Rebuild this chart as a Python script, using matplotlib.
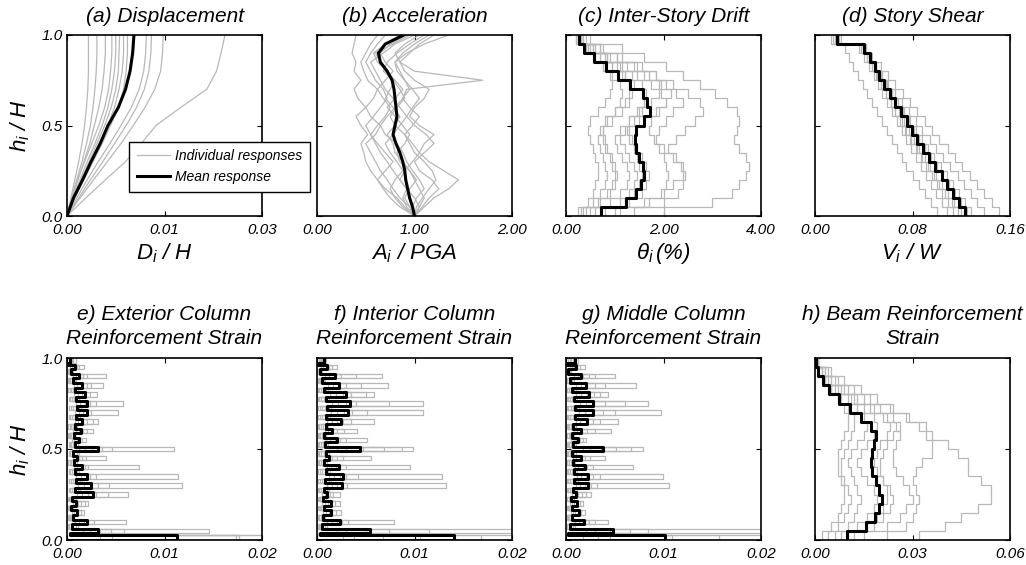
import numpy as np
import matplotlib
matplotlib.use("Agg")
import matplotlib.pyplot as plt
from matplotlib.ticker import FormatStrFormatter
from matplotlib.lines import Line2D

plt.rcParams.update({
    "font.family": "Liberation Sans",
    "font.style": "italic",
    "mathtext.fontset": "custom",
    "mathtext.rm": "Liberation Sans:italic",
    "mathtext.it": "Liberation Sans:italic",
    "mathtext.bf": "Liberation Sans:bold:italic",
    "mathtext.sf": "Liberation Sans:italic",
})

# ---------------------------------------------------------------- data
# (a) floor displacement D/H at h/H = 0, 0.1, ..., 1.0
disp_records = [
    [0, 0.0006, 0.0012, 0.0018, 0.0023, 0.0027, 0.0030, 0.0032, 0.0033, 0.0033, 0.0033],
    [0, 0.0007, 0.0015, 0.0023, 0.0030, 0.0036, 0.0040, 0.0043, 0.0045, 0.0046, 0.0046],
    [0, 0.0008, 0.0017, 0.0026, 0.0035, 0.0042, 0.0049, 0.0054, 0.0057, 0.0059, 0.0059],
    [0, 0.0007, 0.0016, 0.0027, 0.0038, 0.0049, 0.0058, 0.0064, 0.0067, 0.0069, 0.0069],
    [0, 0.0009, 0.0020, 0.0031, 0.0043, 0.0054, 0.0063, 0.0069, 0.0073, 0.0075, 0.0075],
    [0, 0.0010, 0.0022, 0.0034, 0.0046, 0.0058, 0.0068, 0.0075, 0.0079, 0.0080, 0.0081],
    [0, 0.0010, 0.0023, 0.0036, 0.0050, 0.0063, 0.0073, 0.0080, 0.0085, 0.0087, 0.0087],
    [0, 0.0012, 0.0026, 0.0040, 0.0054, 0.0067, 0.0079, 0.0087, 0.0091, 0.0093, 0.0093],
    [0, 0.0015, 0.0031, 0.0048, 0.0066, 0.0083, 0.0099, 0.0111, 0.0118, 0.0121, 0.0122],
    [0, 0.0018, 0.0036, 0.0055, 0.0073, 0.0091, 0.0107, 0.0119, 0.0126, 0.0129, 0.0130],
    [0, 0.0020, 0.0041, 0.0062, 0.0083, 0.0102, 0.0120, 0.0135, 0.0144, 0.0147, 0.0148],
    [0, 0.0029, 0.0059, 0.0090, 0.0114, 0.0137, 0.0175, 0.0215, 0.0230, 0.0237, 0.0243],
]
disp_mean = [0, 0.0010, 0.0024, 0.0037, 0.0051, 0.0063, 0.0079, 0.0090, 0.0097, 0.0101, 0.0103]

# (b) peak floor acceleration A/PGA at h/H = 0, 0.05, ..., 1.0
acc_records = [
    [1.00, 0.90, 0.82, 0.70, 0.62, 0.55, 0.50, 0.48, 0.45, 0.52, 0.45, 0.40, 0.50, 0.42, 0.38, 0.45, 0.38, 0.40, 0.36, 0.38, 0.40],
    [1.00, 0.95, 0.85, 0.78, 0.72, 0.65, 0.60, 0.55, 0.50, 0.60, 0.65, 0.55, 0.50, 0.58, 0.62, 0.52, 0.48, 0.45, 0.50, 0.55, 0.62],
    [1.00, 1.05, 1.10, 1.05, 1.00, 0.95, 0.88, 0.80, 0.78, 0.72, 0.80, 0.85, 0.78, 0.70, 0.75, 0.80, 0.72, 0.62, 0.58, 0.70, 0.85],
    [1.00, 1.10, 1.20, 1.35, 1.45, 1.30, 1.15, 1.05, 1.10, 1.20, 1.05, 0.95, 1.00, 1.10, 1.15, 1.00, 0.90, 0.85, 0.95, 1.05, 1.20],
    [1.00, 0.92, 0.88, 0.92, 0.85, 0.78, 0.72, 0.65, 0.60, 0.55, 0.62, 0.70, 0.75, 0.68, 0.62, 0.70, 0.78, 0.70, 0.65, 0.75, 0.92],
    [1.00, 1.02, 1.08, 1.15, 1.22, 1.18, 1.10, 1.00, 0.95, 0.90, 0.98, 1.05, 0.95, 0.88, 0.92, 1.70, 1.00, 0.85, 0.80, 0.90, 1.05],
    [1.00, 0.85, 0.75, 0.68, 0.62, 0.70, 0.78, 0.70, 0.62, 0.55, 0.50, 0.58, 0.65, 0.72, 0.68, 0.60, 0.55, 0.50, 0.55, 0.62, 0.70],
    [1.00, 1.08, 1.15, 1.25, 1.18, 1.05, 1.00, 1.10, 1.20, 1.12, 1.00, 0.92, 0.98, 1.05, 0.98, 0.90, 0.82, 0.80, 0.88, 1.00, 1.15],
    [1.00, 0.95, 0.90, 0.95, 1.02, 0.95, 0.85, 0.82, 0.90, 0.95, 0.88, 0.80, 0.72, 0.80, 0.88, 0.80, 0.70, 0.65, 0.60, 0.78, 0.95],
    [1.00, 0.88, 0.80, 0.75, 0.80, 0.88, 0.82, 0.75, 0.70, 0.78, 0.85, 0.92, 0.85, 0.78, 0.70, 0.65, 0.60, 0.55, 0.68, 0.80, 1.00],
    [1.00, 1.05, 1.00, 0.92, 0.85, 0.90, 0.98, 1.05, 0.98, 0.90, 0.80, 0.75, 0.82, 0.90, 0.85, 0.78, 0.68, 0.72, 0.82, 0.95, 1.10],
    [1.00, 0.98, 1.02, 1.10, 1.05, 0.98, 0.92, 0.88, 0.82, 0.70, 0.65, 0.72, 0.80, 0.88, 0.95, 0.90, 0.85, 0.80, 0.92, 1.10, 1.35],
]
acc_mean = [1.00, 0.98, 0.95, 0.93, 0.91, 0.90, 0.88, 0.85, 0.81, 0.78, 0.80,
            0.82, 0.81, 0.80, 0.79, 0.77, 0.72, 0.65, 0.63, 0.70, 0.89]

# (c) inter-story drift (%) for stories 1..20
drift_records = [
    [2.00, 3.00, 3.40, 3.55, 3.70, 3.75, 3.70, 3.55, 3.45, 3.50, 3.55, 3.50, 3.30, 3.05, 2.75, 2.40, 2.05, 1.60, 1.15, 0.50],
    [1.40, 2.00, 2.30, 2.40, 2.45, 2.35, 2.20, 2.10, 2.25, 2.45, 2.65, 2.80, 2.75, 2.50, 2.20, 1.85, 1.45, 1.05, 0.70, 0.35],
    [1.00, 1.60, 2.00, 2.20, 2.40, 2.40, 2.25, 2.00, 1.85, 1.90, 2.05, 2.20, 2.40, 2.25, 1.95, 1.60, 1.25, 0.90, 0.60, 0.30],
    [0.60, 1.10, 1.30, 1.40, 1.45, 1.40, 1.30, 1.20, 1.10, 1.20, 1.50, 1.85, 2.05, 1.95, 1.75, 1.45, 1.15, 0.85, 0.55, 0.30],
    [0.50, 0.90, 1.10, 1.25, 1.30, 1.25, 1.15, 1.05, 1.00, 1.10, 1.30, 1.50, 1.60, 1.55, 1.40, 1.20, 0.95, 0.70, 0.45, 0.25],
    [0.30, 0.55, 0.70, 0.80, 0.85, 0.80, 0.75, 0.70, 0.65, 0.75, 0.95, 1.15, 1.30, 1.35, 1.30, 1.15, 0.95, 0.70, 0.45, 0.25],
    [0.40, 0.70, 0.90, 1.00, 1.05, 1.00, 0.95, 0.85, 0.80, 0.75, 0.85, 1.00, 1.10, 1.15, 1.10, 0.95, 0.75, 0.55, 0.40, 0.20],
    [0.80, 1.30, 1.55, 1.65, 1.70, 1.65, 1.55, 1.45, 1.35, 1.30, 1.40, 1.55, 1.75, 1.90, 1.90, 1.70, 1.40, 1.05, 0.70, 0.35],
    [0.25, 0.45, 0.55, 0.60, 0.65, 0.65, 0.60, 0.55, 0.50, 0.45, 0.50, 0.65, 0.80, 0.90, 0.95, 0.90, 0.75, 0.60, 0.40, 0.20],
    [0.70, 1.20, 1.40, 1.50, 1.55, 1.50, 1.45, 1.40, 1.30, 1.25, 1.30, 1.45, 1.60, 1.65, 1.55, 1.35, 1.10, 0.85, 0.55, 0.30],
    [0.35, 0.65, 0.85, 0.95, 1.00, 0.95, 0.90, 0.80, 0.75, 0.70, 0.80, 1.00, 1.20, 1.30, 1.30, 1.20, 1.05, 0.80, 0.50, 0.25],
    [1.10, 1.70, 1.95, 2.05, 2.10, 2.05, 2.00, 1.90, 1.80, 1.70, 1.75, 1.90, 2.05, 2.15, 2.05, 1.85, 1.55, 1.15, 0.75, 0.40],
]
drift_mean = [0.72, 1.23, 1.43, 1.53, 1.60, 1.57, 1.50, 1.43, 1.41, 1.43, 1.60,
              1.72, 1.67, 1.57, 1.31, 1.06, 0.82, 0.58, 0.37, 0.27]

# (d) story shear V/W for stories 1..20
shear_records = [
    [0.151, 0.145, 0.139, 0.133, 0.127, 0.121, 0.115, 0.109, 0.102, 0.096, 0.090, 0.084, 0.078, 0.072, 0.066, 0.060, 0.054, 0.047, 0.040, 0.021],
    [0.139, 0.133, 0.128, 0.122, 0.117, 0.111, 0.105, 0.099, 0.094, 0.088, 0.083, 0.077, 0.071, 0.066, 0.060, 0.055, 0.050, 0.045, 0.039, 0.019],
    [0.128, 0.123, 0.118, 0.113, 0.108, 0.103, 0.098, 0.093, 0.088, 0.083, 0.078, 0.073, 0.068, 0.063, 0.058, 0.054, 0.050, 0.046, 0.041, 0.018],
    [0.125, 0.120, 0.115, 0.110, 0.105, 0.100, 0.095, 0.090, 0.085, 0.080, 0.075, 0.071, 0.066, 0.062, 0.058, 0.053, 0.049, 0.044, 0.038, 0.016],
    [0.122, 0.118, 0.113, 0.108, 0.104, 0.099, 0.094, 0.090, 0.085, 0.081, 0.077, 0.072, 0.068, 0.063, 0.059, 0.055, 0.050, 0.046, 0.042, 0.020],
    [0.120, 0.114, 0.109, 0.104, 0.099, 0.094, 0.090, 0.085, 0.081, 0.077, 0.073, 0.069, 0.065, 0.061, 0.057, 0.053, 0.049, 0.045, 0.040, 0.017],
    [0.117, 0.112, 0.107, 0.102, 0.098, 0.093, 0.088, 0.084, 0.079, 0.075, 0.071, 0.066, 0.062, 0.058, 0.054, 0.050, 0.047, 0.043, 0.039, 0.015],
    [0.113, 0.109, 0.104, 0.100, 0.096, 0.091, 0.087, 0.083, 0.078, 0.074, 0.070, 0.066, 0.062, 0.058, 0.054, 0.051, 0.047, 0.043, 0.039, 0.019],
    [0.108, 0.104, 0.099, 0.095, 0.091, 0.087, 0.083, 0.079, 0.075, 0.071, 0.067, 0.063, 0.059, 0.055, 0.052, 0.048, 0.044, 0.040, 0.036, 0.016],
    [0.100, 0.095, 0.090, 0.085, 0.080, 0.075, 0.071, 0.067, 0.063, 0.059, 0.055, 0.051, 0.047, 0.043, 0.039, 0.035, 0.031, 0.028, 0.025, 0.013],
]
shear_mean = [0.1228, 0.1180, 0.1134, 0.1085, 0.1039, 0.0984, 0.0938, 0.0889, 0.0841, 0.0795,
              0.0754, 0.0705, 0.0659, 0.0613, 0.0569, 0.0529, 0.0491, 0.0450, 0.0401, 0.0179]

# (e)-(g) column reinforcement strain: peak value at each floor level (21)
# and the smaller value reached between floor levels (20)
ext_records = [
    [0.0250, 0.0146, 0.0061, 0.0017, 0.0022, 0.0063, 0.0118, 0.0114, 0.0074, 0.0040, 0.0110, 0.0019, 0.0027, 0.0032, 0.0052, 0.0057, 0.0031, 0.0037, 0.0040, 0.0017, 0.0009],
    [0.0230, 0.0058, 0.0028, 0.0014, 0.0018, 0.0042, 0.0043, 0.0030, 0.0022, 0.0019, 0.0046, 0.0015, 0.0020, 0.0027, 0.0025, 0.0030, 0.0024, 0.0025, 0.0020, 0.0012, 0.0006],
    [0.0176, 0.0045, 0.0022, 0.0011, 0.0014, 0.0030, 0.0032, 0.0024, 0.0018, 0.0015, 0.0036, 0.0012, 0.0016, 0.0021, 0.0020, 0.0024, 0.0019, 0.0020, 0.0016, 0.0010, 0.0005],
    [0.0173, 0.0034, 0.0017, 0.0009, 0.0011, 0.0022, 0.0025, 0.0019, 0.0014, 0.0012, 0.0026, 0.0010, 0.0012, 0.0016, 0.0016, 0.0018, 0.0015, 0.0015, 0.0012, 0.0008, 0.0004],
    [0.0046, 0.0024, 0.0012, 0.0007, 0.0008, 0.0015, 0.0017, 0.0014, 0.0010, 0.0009, 0.0018, 0.0007, 0.0009, 0.0011, 0.0012, 0.0013, 0.0011, 0.0010, 0.0009, 0.0005, 0.0003],
    [0.0034, 0.0016, 0.0008, 0.0005, 0.0006, 0.0010, 0.0011, 0.0009, 0.0007, 0.0006, 0.0012, 0.0005, 0.0006, 0.0008, 0.0008, 0.0009, 0.0007, 0.0007, 0.0006, 0.0003, 0.0002],
]
ext_records_low = [
    [0.0012, 0.0009, 0.0005, 0.0004, 0.0007, 0.0011, 0.0013, 0.0010, 0.0008, 0.0010, 0.0009, 0.0006, 0.0008, 0.0011, 0.0012, 0.0010, 0.0009, 0.0008, 0.0005, 0.0002],
    [0.0008, 0.0006, 0.0004, 0.0003, 0.0005, 0.0008, 0.0009, 0.0007, 0.0006, 0.0007, 0.0006, 0.0004, 0.0006, 0.0008, 0.0009, 0.0007, 0.0006, 0.0005, 0.0003, 0.0001],
    [0.0005, 0.0004, 0.0003, 0.0002, 0.0003, 0.0005, 0.0006, 0.0005, 0.0004, 0.0005, 0.0004, 0.0003, 0.0004, 0.0005, 0.0006, 0.0005, 0.0004, 0.0003, 0.0002, 0.0001],
    [0.0003, 0.0002, 0.0002, 0.0001, 0.0002, 0.0003, 0.0004, 0.0003, 0.0003, 0.0003, 0.0003, 0.0002, 0.0003, 0.0003, 0.0004, 0.0003, 0.0003, 0.0002, 0.0001, 0.0001],
    [0.0015, 0.0011, 0.0007, 0.0006, 0.0009, 0.0013, 0.0015, 0.0012, 0.0010, 0.0012, 0.0011, 0.0008, 0.0010, 0.0013, 0.0014, 0.0012, 0.0011, 0.0009, 0.0006, 0.0003],
    [0.0002, 0.0001, 0.0001, 0.0001, 0.0001, 0.0002, 0.0002, 0.0002, 0.0001, 0.0002, 0.0002, 0.0001, 0.0001, 0.0002, 0.0002, 0.0002, 0.0001, 0.0001, 0.0001, 0.0000],
]
ext_mean = [0.0113, 0.0032, 0.0020, 0.0010, 0.0009, 0.0027, 0.0025, 0.0021, 0.0015, 0.0010, 0.0032,
            0.0012, 0.0014, 0.0015, 0.0020, 0.0020, 0.0018, 0.0015, 0.0012, 0.0008, 0.0003]
ext_mean_low = [0.0003, 0.0005, 0.0006, 0.0004, 0.0005, 0.0008, 0.0009, 0.0008, 0.0007, 0.0006,
                0.0008, 0.0007, 0.0008, 0.0009, 0.0010, 0.0009, 0.0008, 0.0006, 0.0004, 0.0001]

int_records = [
    [0.0260, 0.0230, 0.0079, 0.0025, 0.0024, 0.0024, 0.0132, 0.0128, 0.0095, 0.0055, 0.0098, 0.0051, 0.0041, 0.0058, 0.0109, 0.0109, 0.0058, 0.0073, 0.0067, 0.0021, 0.0009],
    [0.0168, 0.0115, 0.0032, 0.0019, 0.0018, 0.0016, 0.0031, 0.0042, 0.0030, 0.0027, 0.0087, 0.0030, 0.0028, 0.0035, 0.0051, 0.0074, 0.0050, 0.0045, 0.0040, 0.0015, 0.0006],
    [0.0106, 0.0074, 0.0026, 0.0015, 0.0014, 0.0013, 0.0025, 0.0030, 0.0024, 0.0020, 0.0069, 0.0024, 0.0020, 0.0027, 0.0036, 0.0040, 0.0035, 0.0030, 0.0025, 0.0012, 0.0005],
    [0.0068, 0.0050, 0.0020, 0.0012, 0.0011, 0.0010, 0.0020, 0.0024, 0.0019, 0.0015, 0.0047, 0.0018, 0.0015, 0.0020, 0.0028, 0.0030, 0.0027, 0.0022, 0.0018, 0.0009, 0.0004],
    [0.0038, 0.0030, 0.0015, 0.0009, 0.0008, 0.0008, 0.0015, 0.0017, 0.0014, 0.0011, 0.0030, 0.0013, 0.0011, 0.0015, 0.0020, 0.0022, 0.0019, 0.0016, 0.0012, 0.0006, 0.0003],
    [0.0027, 0.0020, 0.0010, 0.0006, 0.0005, 0.0005, 0.0010, 0.0012, 0.0010, 0.0008, 0.0020, 0.0009, 0.0008, 0.0010, 0.0014, 0.0015, 0.0013, 0.0011, 0.0008, 0.0004, 0.0002],
]
int_records_low = [
    [0.0010, 0.0008, 0.0006, 0.0006, 0.0007, 0.0010, 0.0012, 0.0011, 0.0008, 0.0010, 0.0009, 0.0007, 0.0009, 0.0011, 0.0012, 0.0010, 0.0009, 0.0007, 0.0004, 0.0002],
    [0.0007, 0.0005, 0.0004, 0.0004, 0.0005, 0.0007, 0.0008, 0.0008, 0.0006, 0.0007, 0.0006, 0.0005, 0.0006, 0.0008, 0.0008, 0.0007, 0.0006, 0.0005, 0.0003, 0.0001],
    [0.0004, 0.0003, 0.0002, 0.0003, 0.0003, 0.0004, 0.0005, 0.0005, 0.0004, 0.0004, 0.0004, 0.0003, 0.0004, 0.0005, 0.0005, 0.0004, 0.0004, 0.0003, 0.0002, 0.0001],
    [0.0013, 0.0010, 0.0008, 0.0008, 0.0009, 0.0012, 0.0014, 0.0013, 0.0010, 0.0012, 0.0011, 0.0009, 0.0011, 0.0013, 0.0014, 0.0012, 0.0011, 0.0008, 0.0005, 0.0002],
    [0.0002, 0.0002, 0.0001, 0.0002, 0.0002, 0.0002, 0.0003, 0.0003, 0.0002, 0.0002, 0.0002, 0.0002, 0.0002, 0.0003, 0.0003, 0.0002, 0.0002, 0.0002, 0.0001, 0.0001],
    [0.0001, 0.0001, 0.0001, 0.0001, 0.0001, 0.0001, 0.0001, 0.0001, 0.0001, 0.0001, 0.0001, 0.0001, 0.0001, 0.0001, 0.0001, 0.0001, 0.0001, 0.0001, 0.0000, 0.0000],
]
int_mean = [0.0140, 0.0054, 0.0024, 0.0014, 0.0014, 0.0010, 0.0026, 0.0027, 0.0023, 0.0012, 0.0044,
            0.0021, 0.0015, 0.0025, 0.0032, 0.0034, 0.0030, 0.0023, 0.0018, 0.0010, 0.0007]
int_mean_low = [0.0003, 0.0005, 0.0006, 0.0007, 0.0006, 0.0007, 0.0008, 0.0009, 0.0007, 0.0009,
                0.0008, 0.0007, 0.0009, 0.0009, 0.0010, 0.0009, 0.0007, 0.0005, 0.0003, 0.0001]

mid_records = [
    [0.0250, 0.0210, 0.0043, 0.0019, 0.0017, 0.0026, 0.0106, 0.0099, 0.0069, 0.0040, 0.0079, 0.0021, 0.0046, 0.0053, 0.0097, 0.0084, 0.0043, 0.0072, 0.0050, 0.0019, 0.0012],
    [0.0157, 0.0084, 0.0030, 0.0015, 0.0014, 0.0020, 0.0032, 0.0035, 0.0028, 0.0025, 0.0067, 0.0017, 0.0030, 0.0035, 0.0050, 0.0060, 0.0035, 0.0040, 0.0030, 0.0014, 0.0009],
    [0.0109, 0.0066, 0.0024, 0.0012, 0.0011, 0.0016, 0.0026, 0.0028, 0.0022, 0.0019, 0.0051, 0.0014, 0.0022, 0.0028, 0.0038, 0.0040, 0.0029, 0.0030, 0.0024, 0.0011, 0.0007],
    [0.0045, 0.0045, 0.0018, 0.0009, 0.0008, 0.0012, 0.0019, 0.0021, 0.0017, 0.0014, 0.0036, 0.0010, 0.0016, 0.0020, 0.0027, 0.0029, 0.0022, 0.0021, 0.0017, 0.0008, 0.0005],
    [0.0033, 0.0030, 0.0013, 0.0007, 0.0006, 0.0009, 0.0014, 0.0015, 0.0012, 0.0010, 0.0025, 0.0008, 0.0011, 0.0014, 0.0019, 0.0020, 0.0015, 0.0015, 0.0012, 0.0006, 0.0004],
    [0.0017, 0.0020, 0.0009, 0.0005, 0.0004, 0.0006, 0.0010, 0.0011, 0.0009, 0.0007, 0.0017, 0.0005, 0.0008, 0.0010, 0.0013, 0.0014, 0.0010, 0.0010, 0.0008, 0.0004, 0.0002],
]
mid_records_low = [
    [0.0009, 0.0007, 0.0005, 0.0005, 0.0006, 0.0009, 0.0010, 0.0009, 0.0007, 0.0008, 0.0008, 0.0006, 0.0008, 0.0010, 0.0011, 0.0009, 0.0008, 0.0006, 0.0004, 0.0002],
    [0.0006, 0.0005, 0.0003, 0.0003, 0.0004, 0.0006, 0.0007, 0.0006, 0.0005, 0.0006, 0.0005, 0.0004, 0.0005, 0.0007, 0.0007, 0.0006, 0.0005, 0.0004, 0.0002, 0.0001],
    [0.0012, 0.0009, 0.0007, 0.0007, 0.0008, 0.0011, 0.0012, 0.0011, 0.0009, 0.0010, 0.0010, 0.0008, 0.0010, 0.0012, 0.0013, 0.0011, 0.0010, 0.0008, 0.0005, 0.0002],
    [0.0004, 0.0003, 0.0002, 0.0002, 0.0003, 0.0004, 0.0004, 0.0004, 0.0003, 0.0004, 0.0003, 0.0003, 0.0003, 0.0004, 0.0005, 0.0004, 0.0003, 0.0003, 0.0002, 0.0001],
    [0.0002, 0.0001, 0.0001, 0.0001, 0.0001, 0.0002, 0.0002, 0.0002, 0.0001, 0.0002, 0.0002, 0.0001, 0.0002, 0.0002, 0.0002, 0.0002, 0.0001, 0.0001, 0.0001, 0.0000],
    [0.0001, 0.0001, 0.0000, 0.0000, 0.0001, 0.0001, 0.0001, 0.0001, 0.0001, 0.0001, 0.0001, 0.0000, 0.0001, 0.0001, 0.0001, 0.0001, 0.0001, 0.0000, 0.0000, 0.0000],
]
mid_mean = [0.0102, 0.0048, 0.0018, 0.0013, 0.0011, 0.0010, 0.0023, 0.0023, 0.0019, 0.0015, 0.0038,
            0.0012, 0.0015, 0.0022, 0.0028, 0.0028, 0.0024, 0.0020, 0.0015, 0.0010, 0.0009]
mid_mean_low = [0.0002, 0.0004, 0.0006, 0.0006, 0.0005, 0.0007, 0.0008, 0.0008, 0.0007, 0.0006,
                0.0007, 0.0006, 0.0007, 0.0009, 0.0009, 0.0008, 0.0006, 0.0004, 0.0002, 0.0001]

# (h) beam reinforcement strain for stories 1..20
beam_records = [
    [0.032, 0.040, 0.045, 0.050, 0.054, 0.054, 0.051, 0.047, 0.047, 0.044, 0.041, 0.036, 0.034, 0.029, 0.024, 0.019, 0.014, 0.009, 0.005, 0.001],
    [0.022, 0.028, 0.030, 0.031, 0.032, 0.031, 0.030, 0.031, 0.033, 0.036, 0.036, 0.034, 0.032, 0.028, 0.023, 0.017, 0.012, 0.007, 0.004, 0.001],
    [0.015, 0.022, 0.026, 0.028, 0.030, 0.029, 0.027, 0.025, 0.024, 0.024, 0.025, 0.026, 0.025, 0.022, 0.018, 0.013, 0.009, 0.005, 0.003, 0.001],
    [0.012, 0.018, 0.021, 0.023, 0.024, 0.023, 0.021, 0.019, 0.018, 0.019, 0.020, 0.022, 0.023, 0.021, 0.017, 0.012, 0.008, 0.005, 0.002, 0.001],
    [0.008, 0.013, 0.016, 0.018, 0.019, 0.018, 0.016, 0.014, 0.013, 0.014, 0.016, 0.018, 0.019, 0.018, 0.015, 0.011, 0.007, 0.004, 0.002, 0.000],
    [0.006, 0.010, 0.012, 0.013, 0.014, 0.013, 0.012, 0.011, 0.010, 0.011, 0.013, 0.015, 0.016, 0.015, 0.013, 0.010, 0.006, 0.004, 0.002, 0.000],
    [0.004, 0.007, 0.009, 0.010, 0.011, 0.010, 0.009, 0.008, 0.008, 0.009, 0.010, 0.011, 0.012, 0.012, 0.010, 0.008, 0.005, 0.003, 0.001, 0.000],
    [0.010, 0.016, 0.019, 0.021, 0.022, 0.022, 0.021, 0.020, 0.020, 0.021, 0.022, 0.024, 0.026, 0.024, 0.020, 0.015, 0.010, 0.006, 0.003, 0.001],
    [0.002, 0.005, 0.007, 0.008, 0.009, 0.009, 0.008, 0.007, 0.007, 0.007, 0.008, 0.009, 0.010, 0.010, 0.009, 0.007, 0.005, 0.003, 0.001, 0.000],
]
beam_mean = [0.0098, 0.0157, 0.0184, 0.0198, 0.0205, 0.0198, 0.0187, 0.0175, 0.0172, 0.0175,
             0.0180, 0.0187, 0.0172, 0.0141, 0.0109, 0.0075, 0.0044, 0.0024, 0.0010, 0.0003]

# ---------------------------------------------------------------- styling
GRAY = "#b8b8b8"
GRAY_LW = 0.9
MEAN_LW = 2.2
W_PX, H_PX = 1026, 565
TITLE_SIZE = 15
LABEL_SIZE = 16
TICK_SIZE = 11


def story_profile(values):
    """Constant value over each story -> step outline along the height."""
    v = np.asarray(values, dtype=float)
    edges = np.arange(len(v) + 1) / len(v)
    return np.repeat(v, 2), np.repeat(edges, 2)[1:-1]


def floor_comb(peaks, lows, half=0.0125):
    """Outline of short bars centred on each floor level, joined between floors."""
    n = len(peaks) - 1
    bot = [max(0.0, j / n - half) for j in range(n + 1)]
    top = [min(1.0, j / n + half) for j in range(n + 1)]
    bot[0], top[0] = 0.0, 2 * half
    bot[n], top[n] = 1.0 - 2 * half, 1.0
    xs = [0.0, peaks[0], peaks[0]]
    ys = [0.0, 0.0, top[0]]
    for j in range(1, n + 1):
        xs += [lows[j - 1], lows[j - 1], peaks[j], peaks[j]]
        ys += [top[j - 1], bot[j], bot[j], top[j]]
    return xs, ys


fig = plt.figure(figsize=(W_PX / 100, H_PX / 100), dpi=100)


def make_axes(left, top, right, bottom):
    return fig.add_axes([left / W_PX, 1 - bottom / H_PX,
                         (right - left) / W_PX, (bottom - top) / H_PX])


def style(ax, xmax, xticks, first_col):
    ax.set_xlim(0, xmax)
    ax.set_ylim(0, 1)
    ax.set_xticks(xticks)
    ax.set_yticks([0, 0.5, 1.0])
    ax.xaxis.set_major_formatter(FormatStrFormatter("%.2f"))
    ax.yaxis.set_major_formatter(FormatStrFormatter("%.1f"))
    ax.tick_params(direction="in", top=True, right=True, length=3.5, width=0.8,
                   labelsize=TICK_SIZE)
    ax.tick_params(axis="x", pad=5)
    ax.tick_params(axis="y", pad=3)
    if not first_col:
        ax.tick_params(labelleft=False)
    else:
        ax.set_ylabel(r"$h_i\ /\ H$", fontsize=LABEL_SIZE, labelpad=7)
    for s in ax.spines.values():
        s.set_linewidth(1.2)


lefts = [67, 317, 566, 815]
width = 195
top_axes = [make_axes(l, 35, l + width, 216) for l in lefts]
bot_axes = [make_axes(l, 358, l + width, 540) for l in lefts]

# (a) displacement
ax = top_axes[0]
disp_h = np.arange(len(disp_mean)) / (len(disp_mean) - 1)
for rec in disp_records:
    ax.plot(rec, disp_h, color=GRAY, lw=GRAY_LW)
ax.plot(disp_mean, disp_h, color="black", lw=MEAN_LW)
style(ax, 0.03, [0, 0.015, 0.03], True)
ax.set_title("(a) Displacement", fontsize=TITLE_SIZE, pad=9)
ax.set_xlabel(r"$D_i\ /\ H$", fontsize=LABEL_SIZE, labelpad=3)
handles = [Line2D([], [], color=GRAY, lw=GRAY_LW), Line2D([], [], color="black", lw=MEAN_LW)]
leg = ax.legend(handles, ["Individual responses", "Mean response"], loc="lower left",
                bbox_to_anchor=(0.32, 0.133), borderaxespad=0, fancybox=False,
                edgecolor="black", framealpha=1, fontsize=10, handlelength=2.4,
                handletextpad=0.35, borderpad=0.55, labelspacing=0.5)
leg.get_frame().set_linewidth(1.0)

# (b) acceleration
ax = top_axes[1]
acc_h = np.arange(len(acc_mean)) / (len(acc_mean) - 1)
for rec in acc_records:
    ax.plot(rec, acc_h, color=GRAY, lw=GRAY_LW)
ax.plot(acc_mean, acc_h, color="black", lw=MEAN_LW)
style(ax, 2.0, [0, 1.0, 2.0], False)
ax.set_title("(b) Acceleration", fontsize=TITLE_SIZE, pad=9)
ax.set_xlabel(r"$A_i\ /\ PGA$", fontsize=LABEL_SIZE, labelpad=3)

# (c) inter-story drift
ax = top_axes[2]
for rec in drift_records:
    ax.plot(*story_profile(rec), color=GRAY, lw=GRAY_LW)
ax.plot(*story_profile(drift_mean), color="black", lw=MEAN_LW)
style(ax, 4.0, [0, 2.0, 4.0], False)
ax.set_title("(c) Inter-Story Drift", fontsize=TITLE_SIZE, pad=9)
ax.set_xlabel(r"$\theta_i\,(\%)$", fontsize=LABEL_SIZE, labelpad=3)

# (d) story shear
ax = top_axes[3]
for rec in shear_records:
    ax.plot(*story_profile(rec), color=GRAY, lw=GRAY_LW)
ax.plot(*story_profile(shear_mean), color="black", lw=MEAN_LW)
style(ax, 0.16, [0, 0.08, 0.16], False)
ax.set_title("(d) Story Shear", fontsize=TITLE_SIZE, pad=9)
ax.set_xlabel(r"$V_i\ /\ W$", fontsize=LABEL_SIZE, labelpad=3)

# (e)-(g) column reinforcement strain
column_sets = [
    ("e) Exterior Column\nReinforcement Strain", ext_records, ext_records_low, ext_mean, ext_mean_low),
    ("f) Interior Column\nReinforcement Strain", int_records, int_records_low, int_mean, int_mean_low),
    ("g) Middle Column\nReinforcement Strain", mid_records, mid_records_low, mid_mean, mid_mean_low),
]
for i, (title, recs, recs_low, mean, mean_low) in enumerate(column_sets):
    ax = bot_axes[i]
    for rec, low in zip(recs, recs_low):
        ax.plot(*floor_comb(rec, low), color=GRAY, lw=GRAY_LW)
    ax.plot(*floor_comb(mean, mean_low), color="black", lw=MEAN_LW)
    style(ax, 0.02, [0, 0.01, 0.02], i == 0)
    ax.set_title(title, fontsize=TITLE_SIZE, pad=10, linespacing=1.35)

# (h) beam reinforcement strain
ax = bot_axes[3]
for rec in beam_records:
    ax.plot(*story_profile(rec), color=GRAY, lw=GRAY_LW)
ax.plot(*story_profile(beam_mean), color="black", lw=MEAN_LW)
style(ax, 0.06, [0, 0.03, 0.06], False)
ax.set_title("h) Beam Reinforcement\nStrain", fontsize=TITLE_SIZE, pad=10, linespacing=1.35)

fig.savefig("out.png", dpi=100)
